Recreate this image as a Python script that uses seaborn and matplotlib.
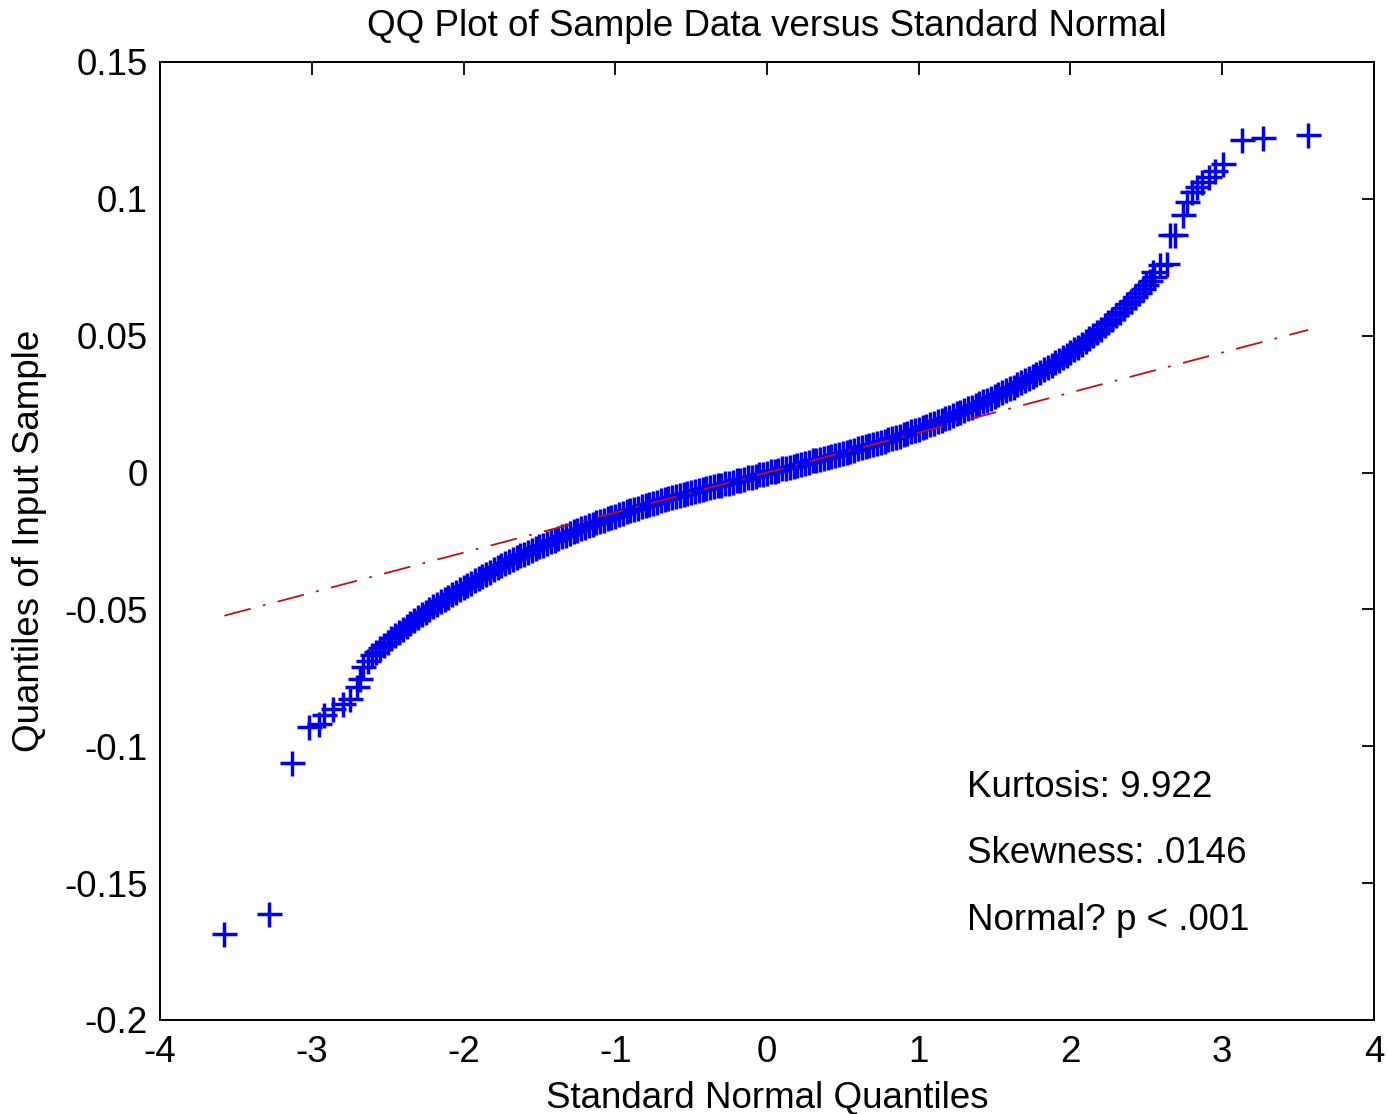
import matplotlib
matplotlib.use("Agg")
import matplotlib.pyplot as plt
import seaborn as sns
import numpy as np

# ---------------- data ----------------
# lower tail (theoretical quantile, sample quantile)
tail_low_x = [-3.576, -3.282, -3.132, -3.018, -2.950, -2.917, -2.858,
              -2.796, -2.748, -2.704, -2.683, -2.660, -2.627]
tail_low_y = [-0.1686, -0.1613, -0.1063, -0.0930, -0.0918, -0.0887, -0.0863,
              -0.0845, -0.0827, -0.0784, -0.0753, -0.0711, -0.0687]

# dense central band
band_x = [
    -2.600, -2.575, -2.550, -2.525, -2.500, -2.475, -2.450, -2.425, -2.400, -2.375,
    -2.350, -2.325, -2.300, -2.275, -2.250, -2.225, -2.200, -2.175, -2.150, -2.125,
    -2.100, -2.075, -2.050, -2.025, -2.000, -1.975, -1.950, -1.925, -1.900, -1.875,
    -1.850, -1.825, -1.800, -1.775, -1.750, -1.725, -1.700, -1.675, -1.650, -1.625,
    -1.600, -1.575, -1.550, -1.525, -1.500, -1.475, -1.450, -1.425, -1.400, -1.375,
    -1.350, -1.325, -1.300, -1.275, -1.250, -1.225, -1.200, -1.175, -1.150, -1.125,
    -1.100, -1.075, -1.050, -1.025, -1.000, -0.975, -0.950, -0.925, -0.900, -0.875,
    -0.850, -0.825, -0.800, -0.775, -0.750, -0.725, -0.700, -0.675, -0.650, -0.625,
    -0.600, -0.575, -0.550, -0.525, -0.500, -0.475, -0.450, -0.425, -0.400, -0.375,
    -0.350, -0.325, -0.300, -0.275, -0.250, -0.225, -0.200, -0.175, -0.150, -0.125,
    -0.100, -0.075, -0.050, -0.025, 0.000, 0.025, 0.050, 0.075, 0.100, 0.125,
    0.150, 0.175, 0.200, 0.225, 0.250, 0.275, 0.300, 0.325, 0.350, 0.375,
    0.400, 0.425, 0.450, 0.475, 0.500, 0.525, 0.550, 0.575, 0.600, 0.625,
    0.650, 0.675, 0.700, 0.725, 0.750, 0.775, 0.800, 0.825, 0.850, 0.875,
    0.900, 0.925, 0.950, 0.975, 1.000, 1.025, 1.050, 1.075, 1.100, 1.125,
    1.150, 1.175, 1.200, 1.225, 1.250, 1.275, 1.300, 1.325, 1.350, 1.375,
    1.400, 1.425, 1.450, 1.475, 1.500, 1.525, 1.550, 1.575, 1.600, 1.625,
    1.650, 1.675, 1.700, 1.725, 1.750, 1.775, 1.800, 1.825, 1.850, 1.875,
    1.900, 1.925, 1.950, 1.975, 2.000, 2.025, 2.050, 2.075, 2.100, 2.125,
    2.150, 2.175, 2.200, 2.225, 2.250, 2.275, 2.300, 2.325, 2.350, 2.375,
    2.400, 2.425, 2.450, 2.475, 2.500, 2.525, 2.550,
]
band_y = [
    -0.0668, -0.0655, -0.0642, -0.0630, -0.0618, -0.0606, -0.0594, -0.0582, -0.0571, -0.0560,
    -0.0549, -0.0538, -0.0528, -0.0518, -0.0508, -0.0498, -0.0489, -0.0480, -0.0471, -0.0462,
    -0.0453, -0.0444, -0.0436, -0.0427, -0.0419, -0.0410, -0.0402, -0.0394, -0.0386, -0.0378,
    -0.0370, -0.0362, -0.0354, -0.0346, -0.0339, -0.0331, -0.0324, -0.0317, -0.0310, -0.0303,
    -0.0296, -0.0289, -0.0283, -0.0276, -0.0270, -0.0263, -0.0257, -0.0251, -0.0245, -0.0239,
    -0.0233, -0.0227, -0.0221, -0.0215, -0.0210, -0.0204, -0.0199, -0.0193, -0.0188, -0.0182,
    -0.0177, -0.0172, -0.0167, -0.0162, -0.0157, -0.0152, -0.0147, -0.0142, -0.0138, -0.0133,
    -0.0129, -0.0124, -0.0120, -0.0115, -0.0111, -0.0106, -0.0102, -0.0098, -0.0094, -0.0090,
    -0.0086, -0.0082, -0.0079, -0.0075, -0.0072, -0.0068, -0.0065, -0.0061, -0.0058, -0.0054,
    -0.0051, -0.0047, -0.0044, -0.0040, -0.0037, -0.0033, -0.0029, -0.0026, -0.0022, -0.0018,
    -0.0015, -0.0011, -0.0007, -0.0004, 0.0000, 0.0004, 0.0007, 0.0011, 0.0015, 0.0018,
    0.0022, 0.0025, 0.0029, 0.0032, 0.0036, 0.0040, 0.0044, 0.0047, 0.0051, 0.0054,
    0.0058, 0.0061, 0.0065, 0.0068, 0.0072, 0.0076, 0.0080, 0.0084, 0.0088, 0.0092,
    0.0096, 0.0100, 0.0104, 0.0108, 0.0113, 0.0117, 0.0122, 0.0126, 0.0131, 0.0135,
    0.0140, 0.0145, 0.0150, 0.0155, 0.0160, 0.0165, 0.0170, 0.0176, 0.0181, 0.0187,
    0.0192, 0.0198, 0.0204, 0.0210, 0.0216, 0.0222, 0.0228, 0.0234, 0.0240, 0.0247,
    0.0253, 0.0260, 0.0266, 0.0273, 0.0279, 0.0286, 0.0293, 0.0300, 0.0307, 0.0314,
    0.0322, 0.0329, 0.0337, 0.0345, 0.0353, 0.0361, 0.0369, 0.0377, 0.0386, 0.0394,
    0.0403, 0.0412, 0.0421, 0.0430, 0.0440, 0.0450, 0.0460, 0.0470, 0.0481, 0.0492,
    0.0503, 0.0514, 0.0526, 0.0538, 0.0550, 0.0562, 0.0575, 0.0588, 0.0601, 0.0614,
    0.0628, 0.0642, 0.0656, 0.0670, 0.0685, 0.0700, 0.0715,
]

# upper tail
tail_high_x = [2.545, 2.589, 2.633, 2.655, 2.688, 2.742, 2.765, 2.798,
               2.831, 2.864, 2.914, 2.951, 3.006, 3.127, 3.269, 3.566]
tail_high_y = [0.0733, 0.0757, 0.0763, 0.0867, 0.0867, 0.0940, 0.0988, 0.1024,
               0.1043, 0.1061, 0.1079, 0.1103, 0.1127, 0.1213, 0.1221, 0.1233]

# reference line (through the quartiles), end points
ref_x = [-3.576, 3.566]
ref_y = [-0.0523, 0.0521]

x_ticks = [-4, -3, -2, -1, 0, 1, 2, 3, 4]
x_tick_labels = ["-4", "-3", "-2", "-1", "0", "1", "2", "3", "4"]
y_ticks = [-0.2, -0.15, -0.1, -0.05, 0, 0.05, 0.1, 0.15]
y_tick_labels = ["-0.2", "-0.15", "-0.1", "-0.05", "0", "0.05", "0.1", "0.15"]

title_text = "QQ Plot of Sample Data versus Standard Normal"
x_label = "Standard Normal Quantiles"
y_label = "Quantiles of Input Sample"
stats_lines = ["Kurtosis: 9.922", "Skewness: .0146", "Normal? p < .001"]
stats_x = 1.315
stats_y = [-0.1185, -0.1428, -0.1671]

assert len(band_x) == len(band_y)

# ---------------- styling ----------------
sns.set_theme(style="white")
plt.rcParams["font.family"] = ["Liberation Sans", "DejaVu Sans"]
plt.rcParams["axes.unicode_minus"] = False

fig = plt.figure(figsize=(13.88, 11.14), dpi=100, facecolor="white")
ax = fig.add_axes([0.1153, 0.0844, 0.8746, 0.8600])
ax.set_facecolor("white")

qq_x = tail_low_x + band_x + tail_high_x
qq_y = tail_low_y + band_y + tail_high_y

sns.scatterplot(x=qq_x, y=qq_y, marker="+", s=18 ** 2, color="#0000ee",
                linewidth=2.5, ax=ax, zorder=2, legend=False)

sns.lineplot(x=ref_x, y=ref_y, color="#c01010", linewidth=1.3, ax=ax,
             zorder=3, legend=False)
ax.lines[-1].set_dashes([15, 7, 1.5, 7])

ax.set_xlim(-4, 4)
ax.set_ylim(-0.2, 0.15)
ax.set_xticks(x_ticks)
ax.set_xticklabels(x_tick_labels)
ax.set_yticks(y_ticks)
ax.set_yticklabels(y_tick_labels)

ax.tick_params(axis="both", direction="in", length=9, width=1.3,
               top=True, right=True, labelsize=26.5, colors="black")
ax.tick_params(axis="x", pad=11)
ax.tick_params(axis="y", pad=9)
for sp in ax.spines.values():
    sp.set_visible(True)
    sp.set_color("black")
    sp.set_linewidth(1.4)

ax.set_title(title_text, fontsize=26.5, pad=19, color="black")
ax.set_xlabel(x_label, fontsize=26.5, labelpad=8, color="black")
ax.set_ylabel(y_label, fontsize=26.5, labelpad=12, color="black")

for txt, yy in zip(stats_lines, stats_y):
    ax.text(stats_x, yy, txt, fontsize=26.5, ha="left", va="baseline",
            color="black", zorder=4)

fig.savefig("out.png", dpi=100, facecolor="white")
